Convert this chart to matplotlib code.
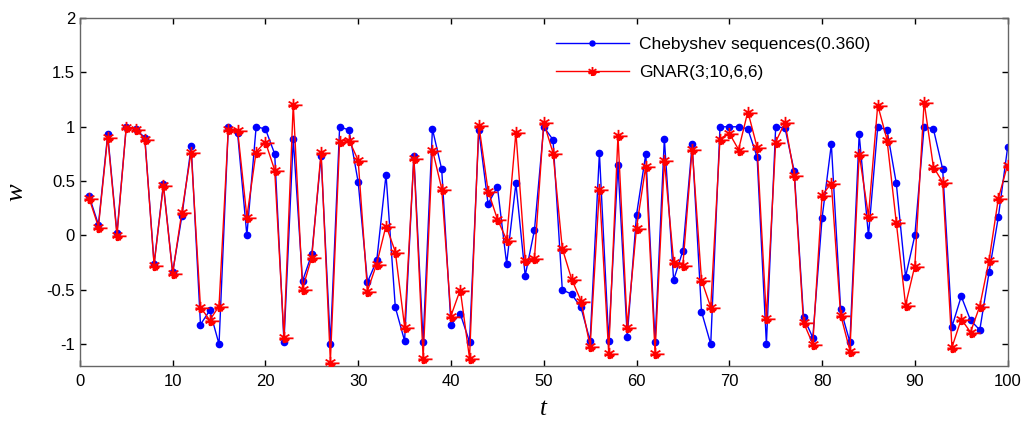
import numpy as np
import matplotlib
matplotlib.use("Agg")
import matplotlib.pyplot as plt
from matplotlib.path import Path

t = list(range(1, 101))

chebyshev = [0.36, 0.10, 0.93, 0.02, 1.0, 0.98, 0.90, -0.26, 0.47, -0.34,
             0.18, 0.82, -0.82, -0.69, -1.0, 1.0, 0.94, 0.0, 1.0, 0.98,
             0.75, -0.98, 0.89, -0.42, -0.17, 0.73, -1.0, 1.0, 0.97, 0.49,
             -0.43, -0.23, 0.56, -0.66, -0.97, 0.73, -0.98, 0.98, 0.61, -0.82,
             -0.72, -0.98, 0.97, 0.29, 0.45, -0.26, 0.48, -0.37, 0.05, 1.0,
             0.88, -0.50, -0.54, -0.66, -0.97, 0.76, -0.97, 0.65, -0.93, 0.19,
             0.75, -0.98, 0.89, -0.41, -0.14, 0.84, -0.70, -1.0, 1.0, 1.0,
             1.0, 0.98, 0.72, -1.0, 1.0, 0.99, 0.59, -0.75, -0.94, 0.16,
             0.84, -0.68, -0.98, 0.93, 0.0, 1.0, 0.97, 0.48, -0.38, 0.0,
             1.0, 0.98, 0.61, -0.84, -0.56, -0.78, -0.87, -0.34, 0.17, 0.81]

gnar = [0.34, 0.08, 0.91, 0.0, 1.0, 0.98, 0.89, -0.27, 0.46, -0.35,
        0.22, 0.77, -0.66, -0.78, -0.65, 0.98, 0.97, 0.17, 0.77, 0.86,
        0.60, -0.93, 1.21, -0.49, -0.20, 0.77, -1.16, 0.87, 0.88, 0.69,
        -0.51, -0.26, 0.09, -0.15, -0.84, 0.71, -1.13, 0.79, 0.43, -0.74,
        -0.50, -1.13, 1.02, 0.41, 0.15, -0.04, 0.95, -0.23, -0.21, 1.04,
        0.76, -0.12, -0.40, -0.60, -1.02, 0.43, -1.08, 0.92, -0.84, 0.07,
        0.64, -1.08, 0.69, -0.24, -0.27, 0.80, -0.41, -0.66, 0.89, 0.94,
        0.79, 1.14, 0.81, -0.76, 0.86, 1.04, 0.56, -0.80, -1.0, 0.37,
        0.48, -0.73, -1.06, 0.75, 0.18, 1.2, 0.88, 0.12, -0.64, -0.28,
        1.23, 0.63, 0.49, -1.03, -0.77, -0.89, -0.65, -0.23, 0.34, 0.65]

xticks = list(range(0, 101, 10))
yticks = [-1, -0.5, 0, 0.5, 1, 1.5, 2]
ytick_labels = ["-1", "-0.5", "0", "0.5", "1", "1.5", "2"]
labels = ["Chebyshev sequences(0.360)", "GNAR(3;10,6,6)"]

# asterisk-like marker with the little artifacts seen in the reference
verts, codes = [], []
for ang in [90, 30, 150]:
    a = np.deg2rad(ang)
    verts += [(np.cos(a), np.sin(a)), (-np.cos(a), -np.sin(a))]
    codes += [Path.MOVETO, Path.LINETO]
verts += [(-0.9, -0.15), (1.6, -0.15)]
codes += [Path.MOVETO, Path.LINETO]
verts += [(-0.2, -0.45), (0.5, -0.45), (0.5, -0.75), (-0.2, -0.75), (-0.2, -0.45)]
codes += [Path.MOVETO, Path.LINETO, Path.LINETO, Path.LINETO, Path.CLOSEPOLY]
star = Path(verts, codes)

plt.rcParams['font.family'] = ['Liberation Sans', 'DejaVu Sans']

fig = plt.figure(figsize=(10.24, 4.21), dpi=100)
ax = fig.add_axes([0.078, 0.131, 0.906, 0.826])

ax.plot(t, chebyshev, color='#0000FF', lw=1.0, marker='o', markersize=4.5,
        markerfacecolor='#0000FF', markeredgecolor='#0000FF', label=labels[0], zorder=2)
ax.plot(t, gnar, color='#FF0000', lw=1.0, marker=star, markersize=13,
        markerfacecolor='none', markeredgecolor='#FF0000', markeredgewidth=1.3,
        label=labels[1], zorder=3)

ax.set_xlim(0, 100)
ax.set_ylim(-1.2, 2)
ax.set_xticks(xticks)
ax.set_yticks(yticks)
ax.set_yticklabels(ytick_labels)
ax.tick_params(direction='in', top=True, right=True, length=4, width=1,
               labelsize=12, colors='black')
ax.tick_params(axis='x', pad=6)
for s in ax.spines.values():
    s.set_color('#666666')
    s.set_linewidth(1.0)

ax.set_xlabel('t', fontsize=18, fontstyle='italic', family='Liberation Serif', labelpad=6)
ax.set_ylabel('w', fontsize=19, fontstyle='italic', family='Liberation Serif', labelpad=14)

leg = ax.legend(loc='upper left', bbox_to_anchor=(0.496, 0.99), frameon=False,
                fontsize=12.5, handlelength=4.2, handletextpad=0.6, labelspacing=0.7,
                markerscale=0.8)

fig.savefig('out.png', dpi=100)
